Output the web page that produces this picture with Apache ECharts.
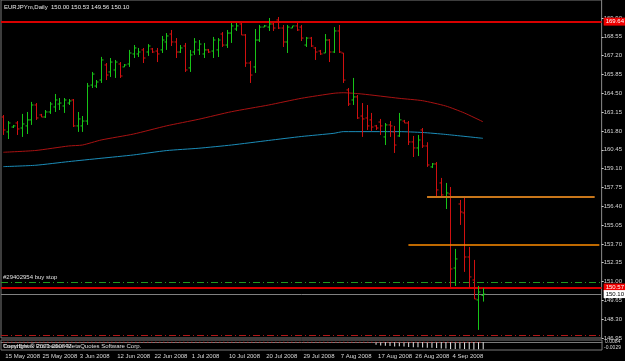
<!DOCTYPE html>
<html>
<head>
<meta charset="utf-8">
<script src="https://cdn.jsdelivr.net/npm/echarts@6/dist/echarts.min.js"></script>
<style>
  html, body { margin: 0; padding: 0; background: #000; }
  #chart { width: 625px; height: 361px; }
</style>
</head>
<body>
<div id="chart"></div>
<script>
// EURJPYm daily, 15 May 2008 - 12 Sep 2008 (Sunday bars included)
const dates = [
  '15 May 2008', '16 May 2008', '18 May 2008', '19 May 2008', '20 May 2008', '21 May 2008', '22 May 2008', '23 May 2008',
  '25 May 2008', '26 May 2008', '27 May 2008', '28 May 2008', '29 May 2008', '30 May 2008',
  '1 Jun 2008', '2 Jun 2008', '3 Jun 2008', '4 Jun 2008', '5 Jun 2008', '6 Jun 2008', '8 Jun 2008', '9 Jun 2008',
  '10 Jun 2008', '11 Jun 2008', '12 Jun 2008', '13 Jun 2008', '15 Jun 2008', '16 Jun 2008', '17 Jun 2008', '18 Jun 2008',
  '19 Jun 2008', '20 Jun 2008', '22 Jun 2008', '23 Jun 2008', '24 Jun 2008', '25 Jun 2008', '26 Jun 2008', '27 Jun 2008',
  '29 Jun 2008', '30 Jun 2008',
  '1 Jul 2008', '2 Jul 2008', '3 Jul 2008', '4 Jul 2008', '6 Jul 2008', '7 Jul 2008', '8 Jul 2008', '9 Jul 2008',
  '10 Jul 2008', '11 Jul 2008', '13 Jul 2008', '14 Jul 2008', '15 Jul 2008', '16 Jul 2008', '17 Jul 2008', '18 Jul 2008',
  '20 Jul 2008', '21 Jul 2008', '22 Jul 2008', '23 Jul 2008', '24 Jul 2008', '25 Jul 2008', '27 Jul 2008', '28 Jul 2008',
  '29 Jul 2008', '30 Jul 2008', '31 Jul 2008',
  '1 Aug 2008', '3 Aug 2008', '4 Aug 2008', '5 Aug 2008', '6 Aug 2008', '7 Aug 2008', '8 Aug 2008', '10 Aug 2008',
  '11 Aug 2008', '12 Aug 2008', '13 Aug 2008', '14 Aug 2008', '15 Aug 2008', '17 Aug 2008', '18 Aug 2008', '19 Aug 2008',
  '20 Aug 2008', '21 Aug 2008', '22 Aug 2008', '24 Aug 2008', '25 Aug 2008', '26 Aug 2008', '27 Aug 2008', '28 Aug 2008',
  '29 Aug 2008', '31 Aug 2008',
  '1 Sep 2008', '2 Sep 2008', '3 Sep 2008', '4 Sep 2008', '5 Sep 2008', '7 Sep 2008', '8 Sep 2008', '9 Sep 2008',
  '10 Sep 2008', '11 Sep 2008', '12 Sep 2008'
];
const emptySlots = 25; // chart shift space on the right

const opens = [
  162.80, 161.73, 162.08, 162.37, 162.01, 162.16, 162.59, 163.66, 162.95, 162.80,
  163.16, 163.52, 163.73, 163.59, 163.80, 164.02, 162.16, 162.16, 162.51, 165.09,
  165.02, 165.45, 166.53, 166.03, 166.17, 166.60, 166.39, 166.60, 167.32, 167.32,
  167.61, 167.46, 167.68, 167.53, 167.61, 168.18, 168.75, 168.18, 167.46, 167.89,
  166.32, 167.46, 167.61, 167.32, 167.61, 167.53, 167.61, 168.75, 167.96, 168.82,
  169.11, 169.47, 168.68, 166.67, 166.39, 168.32, 169.25, 169.25, 169.47, 169.76,
  169.18, 168.18, 169.18, 169.33, 169.25, 167.96, 168.46, 167.75, 167.53, 167.39,
  168.32, 167.46, 168.97, 167.39, 164.74, 164.02, 164.24, 162.87, 162.73, 162.59,
  162.16, 162.44, 161.37, 162.23, 161.73, 161.44, 162.51, 162.37, 161.01, 160.58,
  161.87, 160.72, 159.22, 159.43, 158.07, 157.06, 157.28, 151.97, 156.56, 155.92,
  152.76, 151.11, 149.68, 150.00
];
const highs = [
  162.94, 162.51, 162.23, 162.51, 163.02, 163.16, 163.88, 163.80, 163.02, 163.30,
  163.88, 164.45, 164.16, 164.16, 164.09, 164.09, 163.16, 162.87, 165.24, 166.03,
  165.45, 167.11, 166.67, 167.03, 166.89, 166.74, 166.60, 167.61, 167.96, 167.75,
  167.75, 168.03, 167.75, 167.75, 168.61, 168.82, 169.04, 168.46, 167.96, 168.11,
  167.61, 168.46, 168.32, 168.11, 167.68, 168.54, 168.46, 168.89, 169.04, 169.54,
  169.54, 169.54, 168.75, 166.82, 169.11, 169.40, 169.40, 169.90, 169.54, 169.97,
  169.40, 169.40, 169.33, 169.54, 169.40, 168.54, 168.54, 167.82, 167.61, 168.75,
  168.39, 169.25, 169.40, 167.39, 164.88, 165.60, 164.38, 163.80, 163.66, 163.09,
  162.23, 162.66, 162.37, 162.51, 162.16, 163.09, 162.59, 162.51, 161.44, 161.51,
  162.01, 160.99, 159.50, 159.57, 158.43, 158.07, 157.78, 153.34, 156.85, 156.99,
  153.48, 152.55, 150.69, 150.53
];
const lows = [
  161.51, 161.22, 162.01, 161.51, 161.37, 161.58, 162.23, 162.59, 162.80, 162.73,
  163.02, 163.16, 163.30, 163.09, 163.66, 162.08, 161.73, 161.73, 162.23, 164.88,
  164.88, 165.24, 165.45, 165.67, 165.60, 165.60, 166.39, 166.39, 167.03, 167.10,
  166.67, 167.18, 167.39, 166.74, 167.39, 167.61, 167.89, 167.03, 167.39, 166.03,
  166.03, 167.25, 167.25, 167.03, 167.39, 167.03, 167.10, 167.82, 167.75, 168.11,
  168.97, 168.68, 166.39, 165.24, 165.96, 168.18, 169.25, 168.97, 168.97, 169.11,
  167.82, 167.39, 169.18, 168.97, 168.25, 167.82, 167.82, 166.89, 167.25, 167.39,
  166.74, 167.39, 167.39, 165.24, 163.59, 163.66, 162.66, 161.37, 161.87, 161.80,
  161.87, 161.51, 160.79, 161.37, 160.22, 161.37, 162.37, 160.79, 159.93, 160.00,
  160.58, 159.22, 159.14, 157.06, 157.06, 156.20, 150.61, 150.68, 155.06, 151.69,
  150.54, 149.75, 147.53, 149.56
];
const closes = [
  161.87, 162.37, 162.16, 161.94, 162.30, 162.59, 163.66, 162.73, 162.80, 163.16,
  163.73, 164.02, 163.80, 164.02, 163.95, 162.16, 162.66, 162.51, 165.02, 165.88,
  165.31, 166.89, 165.81, 166.74, 166.74, 165.74, 166.53, 167.39, 167.75, 167.46,
  167.03, 167.89, 167.46, 167.32, 168.32, 168.61, 168.18, 167.46, 167.75, 166.17,
  167.25, 168.18, 168.03, 167.61, 167.46, 168.32, 168.32, 167.96, 168.82, 169.33,
  169.33, 168.68, 166.67, 165.81, 168.32, 169.25, 169.33, 169.47, 169.18, 169.18,
  168.18, 169.25, 169.33, 169.04, 168.46, 168.46, 167.89, 167.46, 167.32, 168.32,
  167.46, 168.97, 167.46, 165.45, 163.73, 164.24, 162.73, 162.66, 162.16, 162.08,
  162.01, 162.16, 162.23, 162.16, 160.79, 162.59, 162.37, 161.01, 160.58, 161.15,
  160.72, 159.36, 159.43, 157.57, 157.21, 157.35, 151.90, 152.62, 155.99, 152.76,
  151.33, 149.75, 150.25, 150.10
];

// moving averages, read at the bar indices listed
const redMaIdx = [0, 7, 14, 17, 21, 28, 35, 42, 49, 57, 64, 71, 73, 77, 85, 90, 95, 99, 103];
const redMaVal = [160.27, 160.40, 160.72, 160.79, 161.15, 161.58, 162.16, 162.64, 163.18, 163.66, 164.14, 164.50, 164.54, 164.45, 164.14, 163.97, 163.59, 163.09, 162.46];
const blueMaIdx = [0, 7, 14, 21, 28, 35, 42, 49, 57, 64, 71, 73, 85, 90, 95, 103];
const blueMaVal = [159.24, 159.34, 159.60, 159.84, 160.08, 160.39, 160.56, 160.79, 161.12, 161.40, 161.63, 161.75, 161.75, 161.69, 161.55, 161.27];

// price levels
const highLevel = 169.64;
const orderLevel = 150.57;
const bidLevel = 150.10;
const buyStopLevel = 150.92;
const stopLevel = 147.17;
const upperTrendIdx = [91, 109, 127];
const upperTrendVal = 157.07;
const lowerTrendIdx = [87, 128];
const lowerTrendVal = 153.62;

const priceTicks = [146.95, 148.30, 149.65, 151.00, 152.35, 153.70, 155.05, 156.40, 157.75, 159.10,
  160.45, 161.80, 163.15, 164.50, 165.85, 167.20, 168.55, 169.90];

// sub window histogram
const histStart = 80;
const histVals = [-0.0010, -0.0012, -0.0013, -0.0014, -0.0016, -0.0015, -0.0016, -0.0018, -0.0019, -0.0019,
  -0.0020, -0.0021, -0.0021, -0.0022, -0.0023, -0.0023, -0.0025, -0.0025, -0.0024, -0.0025,
  -0.0026, -0.0027, -0.0026, -0.0026];

const cats = dates.slice();
for (let k = 0; k < emptySlots; k++) cats.push('pad' + k);

const ohlc = opens.map((o, i) => [i, o, highs[i], lows[i], closes[i]]);
const font = 'Liberation Sans';
const txt = '#d8d8d8';

function showDate(idx) {
  return idx < dates.length && idx % 8 === 0;
}

function renderBar(params, api) {
  const i = api.value(0);
  const x = Math.round(api.coord([i, 0])[0]) + 0.5;
  const yo = api.coord([i, api.value(1)])[1];
  const yh = api.coord([i, api.value(2)])[1];
  const yl = api.coord([i, api.value(3)])[1];
  const yc = api.coord([i, api.value(4)])[1];
  const color = api.value(4) >= api.value(1) ? '#17c417' : '#d01010';
  const st = { stroke: color, lineWidth: 1 };
  return {
    type: 'group',
    children: [
      { type: 'line', shape: { x1: x, y1: yh, x2: x, y2: yl }, style: st },
      { type: 'line', shape: { x1: x - 2, y1: yo, x2: x, y2: yo }, style: st },
      { type: 'line', shape: { x1: x, y1: yc, x2: x + 2, y2: yc }, style: st }
    ]
  };
}

const chart = echarts.init(document.getElementById('chart'));
const option = {
  animation: false,
  backgroundColor: '#000',
  textStyle: { fontFamily: font },
  grid: [
    { left: 1, right: 23, top: 0, height: 338, show: true, borderColor: '#7a7a7a', borderWidth: 1 },
    { left: 1, right: 23, top: 340, height: 10, show: true, borderColor: '#7a7a7a', borderWidth: 1 }
  ],
  xAxis: [
    { type: 'category', gridIndex: 0, data: cats, show: false },
    {
      type: 'category', gridIndex: 1, data: cats,
      axisLine: { lineStyle: { color: '#7a7a7a' } },
      axisTick: { alignWithLabel: true, length: 8, interval: (idx) => showDate(idx), lineStyle: { color: '#cfcfcf' } },
      axisLabel: {
        interval: (idx) => showDate(idx), align: 'left', fontSize: 6, color: txt,
        margin: 3, padding: [0, 0, 0, 2], fontFamily: font
      }
    }
  ],
  yAxis: [
    {
      type: 'value', gridIndex: 0, position: 'right', min: 146.95, max: 171.19,
      splitLine: { show: false },
      axisLine: { show: true, lineStyle: { color: '#7a7a7a' } },
      axisTick: { show: true, length: 2, customValues: priceTicks, lineStyle: { color: '#cfcfcf' } },
      axisLabel: {
        customValues: priceTicks, formatter: (v) => v.toFixed(2),
        fontSize: 6, color: txt, margin: 2, fontFamily: font
      }
    },
    { type: 'value', gridIndex: 1, min: -0.0029, max: 0.0008, show: false }
  ],
  graphic: [
    { type: 'text', left: 4, top: 4, style: { text: 'EURJPYm,Daily  150.00 150.53 149.56 150.10', fill: '#e8e8e8', font: '6px ' + font } },
    { type: 'text', left: 3, top: 274, style: { text: '#29402954 buy stop', fill: '#e0e0e0', font: '6px ' + font } },
    { type: 'text', left: 3, top: 343, style: { text: 'Copyright \u00a9 2001-2008 MetaQuotes Software Corp.', fill: '#e0e0e0', font: '6px ' + font } },
    { type: 'text', left: 3, top: 343, style: { text: 'TrendBreak ProTrader-42', fill: '#cfcfcf', font: '6px ' + font } },
    { type: 'text', left: 605, top: 339, style: { text: '0.0084', fill: txt, font: '5px ' + font } },
    { type: 'text', left: 604, top: 345, style: { text: '-0.0029', fill: txt, font: '5px ' + font } }
  ],
  series: [
    {
      name: 'MA red', type: 'line', xAxisIndex: 0, yAxisIndex: 0, smooth: 0.2, showSymbol: false,
      lineStyle: { color: '#a81212', width: 1 },
      data: redMaIdx.map((i, k) => [i, redMaVal[k]])
    },
    {
      name: 'MA blue', type: 'line', xAxisIndex: 0, yAxisIndex: 0, smooth: 0.2, showSymbol: false,
      lineStyle: { color: '#1b8cb8', width: 1 },
      data: blueMaIdx.map((i, k) => [i, blueMaVal[k]])
    },
    {
      name: 'EURJPYm', type: 'custom', xAxisIndex: 0, yAxisIndex: 0,
      renderItem: renderBar, data: ohlc, z: 5,
      markLine: {
        silent: true, symbol: 'none', animation: false,
        data: [
          { yAxis: highLevel, lineStyle: { color: '#d80000', width: 2, type: 'solid' },
            label: { show: true, position: 'end', formatter: highLevel.toFixed(2), backgroundColor: '#f00000', color: '#fff', fontSize: 6, padding: [1, 2], distance: 2 } },
          { yAxis: buyStopLevel, lineStyle: { color: '#1f9a1f', width: 1, type: [7, 3, 1, 3] }, label: { show: false } },
          { yAxis: orderLevel, lineStyle: { color: '#d80000', width: 2, type: 'solid' },
            label: { show: true, position: 'end', formatter: orderLevel.toFixed(2), backgroundColor: '#f00000', color: '#fff', fontSize: 6, padding: [1, 2], distance: 2 } },
          { yAxis: bidLevel, lineStyle: { color: '#808080', width: 1, type: 'solid' },
            label: { show: true, position: 'end', formatter: bidLevel.toFixed(2), backgroundColor: '#ffffff', color: '#000', fontSize: 6, padding: [1, 2], distance: 2 } },
          { yAxis: stopLevel, lineStyle: { color: '#b01818', width: 1, type: [7, 3, 1, 3] }, label: { show: false } }
        ]
      }
    },
    {
      name: 'upper trend', type: 'line', xAxisIndex: 0, yAxisIndex: 0, z: 6,
      symbol: 'rect', symbolSize: 4, showSymbol: true,
      itemStyle: { color: '#ffd27a', borderColor: '#f08a10', borderWidth: 1 },
      lineStyle: { color: '#c8761a', width: 2 },
      data: upperTrendIdx.map((i) => [i, upperTrendVal])
    },
    {
      name: 'lower trend', type: 'line', xAxisIndex: 0, yAxisIndex: 0, z: 6, showSymbol: false,
      lineStyle: { color: '#ff8c00', width: 1.5 },
      data: lowerTrendIdx.map((i) => [i, lowerTrendVal])
    },
    {
      name: 'signal', type: 'line', xAxisIndex: 1, yAxisIndex: 1, showSymbol: false, z: 3,
      lineStyle: { color: '#e01414', width: 1, type: [1, 3] },
      data: [[0, 0], [dates.length - 1, 0]]
    },
    {
      name: 'hist', type: 'bar', xAxisIndex: 1, yAxisIndex: 1, barWidth: 1,
      itemStyle: { color: '#e6e6e6' },
      data: histVals.map((v, k) => [histStart + k, v])
    }
  ]
};
chart.setOption(option);
</script>
</body>
</html>
